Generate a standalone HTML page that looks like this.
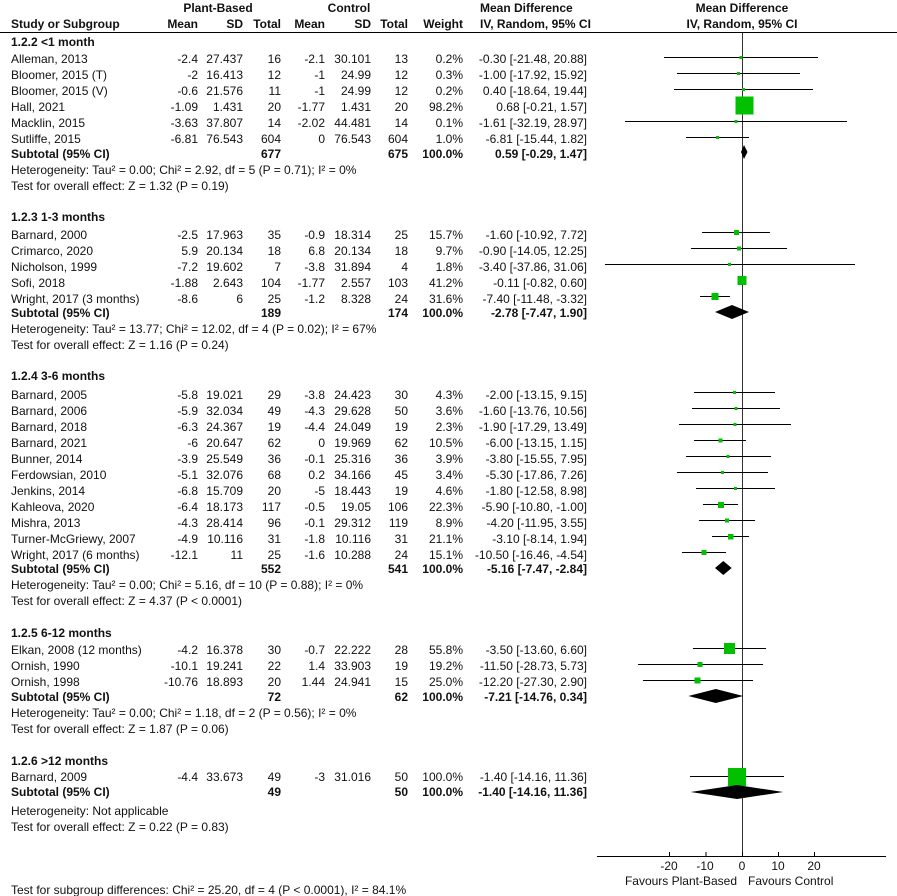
<!DOCTYPE html>
<html><head><meta charset="utf-8"><style>
html,body{margin:0;padding:0;background:#fff;}
svg{display:block;font-family:"Liberation Sans",Arial,sans-serif;font-size:12px;fill:#111;}
.b{font-weight:bold;}
.r{text-anchor:end;}
.c{text-anchor:middle;}
</style></head><body>
<svg width="897" height="896" viewBox="0 0 897 896" xmlns="http://www.w3.org/2000/svg" dominant-baseline="central">
<!-- header -->
<g class="b">
<text x="218" y="8" class="c">Plant-Based</text>
<text x="349" y="8" class="c">Control</text>
<text x="480" y="8">Mean Difference</text>
<text x="742" y="8" class="c">Mean Difference</text>
<text x="11" y="24">Study or Subgroup</text>
<text x="198" y="24" class="r">Mean</text>
<text x="243" y="24" class="r">SD</text>
<text x="281" y="24" class="r">Total</text>
<text x="325" y="24" class="r">Mean</text>
<text x="371" y="24" class="r">SD</text>
<text x="408" y="24" class="r">Total</text>
<text x="463" y="24" class="r">Weight</text>
<text x="480" y="24">IV, Random, 95% CI</text>
<text x="742" y="24" class="c">IV, Random, 95% CI</text>
</g>
<line x1="0" y1="32.5" x2="897" y2="32.5" stroke="#000" stroke-width="1"/>
<line x1="742.5" y1="33" x2="742.5" y2="856" stroke="#333" stroke-width="1"/>
<!-- axis -->
<line x1="597" y1="856.5" x2="886" y2="856.5" stroke="#000" stroke-width="1"/>
<g stroke="#000" stroke-width="1">
<line x1="669.5" y1="852" x2="669.5" y2="856"/><line x1="706" y1="852" x2="706" y2="856"/><line x1="742.5" y1="852" x2="742.5" y2="856"/><line x1="778.5" y1="852" x2="778.5" y2="856"/><line x1="814.5" y1="852" x2="814.5" y2="856"/>
</g>
<text x="669" y="866" class="c">-20</text><text x="705" y="866" class="c">-10</text><text x="742" y="866" class="c">0</text><text x="778" y="866" class="c">10</text><text x="814" y="866" class="c">20</text>
<text x="737" y="881" class="r">Favours Plant-Based</text>
<text x="748" y="881">Favours Control</text>

<!-- table rows -->
<g>
<text x="11" y="42" class="b">1.2.2 &lt;1 month</text>
<text x="11" y="59">Alleman, 2013</text><text x="198" y="59" class="r">-2.4</text><text x="243" y="59" class="r">27.437</text><text x="281" y="59" class="r">16</text><text x="325" y="59" class="r">-2.1</text><text x="371" y="59" class="r">30.101</text><text x="408" y="59" class="r">13</text><text x="463" y="59" class="r">0.2%</text><text x="587" y="59" class="r">-0.30 [-21.48, 20.88]</text>
<text x="11" y="75">Bloomer, 2015 (T)</text><text x="198" y="75" class="r">-2</text><text x="243" y="75" class="r">16.413</text><text x="281" y="75" class="r">12</text><text x="325" y="75" class="r">-1</text><text x="371" y="75" class="r">24.99</text><text x="408" y="75" class="r">12</text><text x="463" y="75" class="r">0.3%</text><text x="587" y="75" class="r">-1.00 [-17.92, 15.92]</text>
<text x="11" y="91">Bloomer, 2015 (V)</text><text x="198" y="91" class="r">-0.6</text><text x="243" y="91" class="r">21.576</text><text x="281" y="91" class="r">11</text><text x="325" y="91" class="r">-1</text><text x="371" y="91" class="r">24.99</text><text x="408" y="91" class="r">12</text><text x="463" y="91" class="r">0.2%</text><text x="587" y="91" class="r">0.40 [-18.64, 19.44]</text>
<text x="11" y="107">Hall, 2021</text><text x="198" y="107" class="r">-1.09</text><text x="243" y="107" class="r">1.431</text><text x="281" y="107" class="r">20</text><text x="325" y="107" class="r">-1.77</text><text x="371" y="107" class="r">1.431</text><text x="408" y="107" class="r">20</text><text x="463" y="107" class="r">98.2%</text><text x="587" y="107" class="r">0.68 [-0.21, 1.57]</text>
<text x="11" y="123">Macklin, 2015</text><text x="198" y="123" class="r">-3.63</text><text x="243" y="123" class="r">37.807</text><text x="281" y="123" class="r">14</text><text x="325" y="123" class="r">-2.02</text><text x="371" y="123" class="r">44.481</text><text x="408" y="123" class="r">14</text><text x="463" y="123" class="r">0.1%</text><text x="587" y="123" class="r">-1.61 [-32.19, 28.97]</text>
<text x="11" y="139">Sutliffe, 2015</text><text x="198" y="139" class="r">-6.81</text><text x="243" y="139" class="r">76.543</text><text x="281" y="139" class="r">604</text><text x="325" y="139" class="r">0</text><text x="371" y="139" class="r">76.543</text><text x="408" y="139" class="r">604</text><text x="463" y="139" class="r">1.0%</text><text x="587" y="139" class="r">-6.81 [-15.44, 1.82]</text>
<g class="b"><text x="11" y="154">Subtotal (95% CI)</text><text x="281" y="154" class="r">677</text><text x="408" y="154" class="r">675</text><text x="463" y="154" class="r">100.0%</text><text x="587" y="154" class="r">0.59 [-0.29, 1.47]</text></g>
<text x="11" y="170">Heterogeneity: Tau² = 0.00; Chi² = 2.92, df = 5 (P = 0.71); I² = 0%</text>
<text x="11" y="186">Test for overall effect: Z = 1.32 (P = 0.19)</text>

<text x="11" y="217" class="b">1.2.3 1-3 months</text>
<text x="11" y="235">Barnard, 2000</text><text x="198" y="235" class="r">-2.5</text><text x="243" y="235" class="r">17.963</text><text x="281" y="235" class="r">35</text><text x="325" y="235" class="r">-0.9</text><text x="371" y="235" class="r">18.314</text><text x="408" y="235" class="r">25</text><text x="463" y="235" class="r">15.7%</text><text x="587" y="235" class="r">-1.60 [-10.92, 7.72]</text>
<text x="11" y="251">Crimarco, 2020</text><text x="198" y="251" class="r">5.9</text><text x="243" y="251" class="r">20.134</text><text x="281" y="251" class="r">18</text><text x="325" y="251" class="r">6.8</text><text x="371" y="251" class="r">20.134</text><text x="408" y="251" class="r">18</text><text x="463" y="251" class="r">9.7%</text><text x="587" y="251" class="r">-0.90 [-14.05, 12.25]</text>
<text x="11" y="267">Nicholson, 1999</text><text x="198" y="267" class="r">-7.2</text><text x="243" y="267" class="r">19.602</text><text x="281" y="267" class="r">7</text><text x="325" y="267" class="r">-3.8</text><text x="371" y="267" class="r">31.894</text><text x="408" y="267" class="r">4</text><text x="463" y="267" class="r">1.8%</text><text x="587" y="267" class="r">-3.40 [-37.86, 31.06]</text>
<text x="11" y="283">Sofi, 2018</text><text x="198" y="283" class="r">-1.88</text><text x="243" y="283" class="r">2.643</text><text x="281" y="283" class="r">104</text><text x="325" y="283" class="r">-1.77</text><text x="371" y="283" class="r">2.557</text><text x="408" y="283" class="r">103</text><text x="463" y="283" class="r">41.2%</text><text x="587" y="283" class="r">-0.11 [-0.82, 0.60]</text>
<text x="11" y="299">Wright, 2017 (3 months)</text><text x="198" y="299" class="r">-8.6</text><text x="243" y="299" class="r">6</text><text x="281" y="299" class="r">25</text><text x="325" y="299" class="r">-1.2</text><text x="371" y="299" class="r">8.328</text><text x="408" y="299" class="r">24</text><text x="463" y="299" class="r">31.6%</text><text x="587" y="299" class="r">-7.40 [-11.48, -3.32]</text>
<g class="b"><text x="11" y="313">Subtotal (95% CI)</text><text x="281" y="313" class="r">189</text><text x="408" y="313" class="r">174</text><text x="463" y="313" class="r">100.0%</text><text x="587" y="313" class="r">-2.78 [-7.47, 1.90]</text></g>
<text x="11" y="329">Heterogeneity: Tau² = 13.77; Chi² = 12.02, df = 4 (P = 0.02); I² = 67%</text>
<text x="11" y="345">Test for overall effect: Z = 1.16 (P = 0.24)</text>

<text x="11" y="376" class="b">1.2.4 3-6 months</text>
<text x="11" y="395">Barnard, 2005</text><text x="198" y="395" class="r">-5.8</text><text x="243" y="395" class="r">19.021</text><text x="281" y="395" class="r">29</text><text x="325" y="395" class="r">-3.8</text><text x="371" y="395" class="r">24.423</text><text x="408" y="395" class="r">30</text><text x="463" y="395" class="r">4.3%</text><text x="587" y="395" class="r">-2.00 [-13.15, 9.15]</text>
<text x="11" y="411">Barnard, 2006</text><text x="198" y="411" class="r">-5.9</text><text x="243" y="411" class="r">32.034</text><text x="281" y="411" class="r">49</text><text x="325" y="411" class="r">-4.3</text><text x="371" y="411" class="r">29.628</text><text x="408" y="411" class="r">50</text><text x="463" y="411" class="r">3.6%</text><text x="587" y="411" class="r">-1.60 [-13.76, 10.56]</text>
<text x="11" y="427">Barnard, 2018</text><text x="198" y="427" class="r">-6.3</text><text x="243" y="427" class="r">24.367</text><text x="281" y="427" class="r">19</text><text x="325" y="427" class="r">-4.4</text><text x="371" y="427" class="r">24.049</text><text x="408" y="427" class="r">19</text><text x="463" y="427" class="r">2.3%</text><text x="587" y="427" class="r">-1.90 [-17.29, 13.49]</text>
<text x="11" y="443">Barnard, 2021</text><text x="198" y="443" class="r">-6</text><text x="243" y="443" class="r">20.647</text><text x="281" y="443" class="r">62</text><text x="325" y="443" class="r">0</text><text x="371" y="443" class="r">19.969</text><text x="408" y="443" class="r">62</text><text x="463" y="443" class="r">10.5%</text><text x="587" y="443" class="r">-6.00 [-13.15, 1.15]</text>
<text x="11" y="459">Bunner, 2014</text><text x="198" y="459" class="r">-3.9</text><text x="243" y="459" class="r">25.549</text><text x="281" y="459" class="r">36</text><text x="325" y="459" class="r">-0.1</text><text x="371" y="459" class="r">25.316</text><text x="408" y="459" class="r">36</text><text x="463" y="459" class="r">3.9%</text><text x="587" y="459" class="r">-3.80 [-15.55, 7.95]</text>
<text x="11" y="475">Ferdowsian, 2010</text><text x="198" y="475" class="r">-5.1</text><text x="243" y="475" class="r">32.076</text><text x="281" y="475" class="r">68</text><text x="325" y="475" class="r">0.2</text><text x="371" y="475" class="r">34.166</text><text x="408" y="475" class="r">45</text><text x="463" y="475" class="r">3.4%</text><text x="587" y="475" class="r">-5.30 [-17.86, 7.26]</text>
<text x="11" y="491">Jenkins, 2014</text><text x="198" y="491" class="r">-6.8</text><text x="243" y="491" class="r">15.709</text><text x="281" y="491" class="r">20</text><text x="325" y="491" class="r">-5</text><text x="371" y="491" class="r">18.443</text><text x="408" y="491" class="r">19</text><text x="463" y="491" class="r">4.6%</text><text x="587" y="491" class="r">-1.80 [-12.58, 8.98]</text>
<text x="11" y="507">Kahleova, 2020</text><text x="198" y="507" class="r">-6.4</text><text x="243" y="507" class="r">18.173</text><text x="281" y="507" class="r">117</text><text x="325" y="507" class="r">-0.5</text><text x="371" y="507" class="r">19.05</text><text x="408" y="507" class="r">106</text><text x="463" y="507" class="r">22.3%</text><text x="587" y="507" class="r">-5.90 [-10.80, -1.00]</text>
<text x="11" y="523">Mishra, 2013</text><text x="198" y="523" class="r">-4.3</text><text x="243" y="523" class="r">28.414</text><text x="281" y="523" class="r">96</text><text x="325" y="523" class="r">-0.1</text><text x="371" y="523" class="r">29.312</text><text x="408" y="523" class="r">119</text><text x="463" y="523" class="r">8.9%</text><text x="587" y="523" class="r">-4.20 [-11.95, 3.55]</text>
<text x="11" y="539">Turner-McGriewy, 2007</text><text x="198" y="539" class="r">-4.9</text><text x="243" y="539" class="r">10.116</text><text x="281" y="539" class="r">31</text><text x="325" y="539" class="r">-1.8</text><text x="371" y="539" class="r">10.116</text><text x="408" y="539" class="r">31</text><text x="463" y="539" class="r">21.1%</text><text x="587" y="539" class="r">-3.10 [-8.14, 1.94]</text>
<text x="11" y="555">Wright, 2017 (6 months)</text><text x="198" y="555" class="r">-12.1</text><text x="243" y="555" class="r">11</text><text x="281" y="555" class="r">25</text><text x="325" y="555" class="r">-1.6</text><text x="371" y="555" class="r">10.288</text><text x="408" y="555" class="r">24</text><text x="463" y="555" class="r">15.1%</text><text x="587" y="555" class="r">-10.50 [-16.46, -4.54]</text>
<g class="b"><text x="11" y="569">Subtotal (95% CI)</text><text x="281" y="569" class="r">552</text><text x="408" y="569" class="r">541</text><text x="463" y="569" class="r">100.0%</text><text x="587" y="569" class="r">-5.16 [-7.47, -2.84]</text></g>
<text x="11" y="585">Heterogeneity: Tau² = 0.00; Chi² = 5.16, df = 10 (P = 0.88); I² = 0%</text>
<text x="11" y="601">Test for overall effect: Z = 4.37 (P &lt; 0.0001)</text>

<text x="11" y="633" class="b">1.2.5 6-12 months</text>
<text x="11" y="650">Elkan, 2008 (12 months)</text><text x="198" y="650" class="r">-4.2</text><text x="243" y="650" class="r">16.378</text><text x="281" y="650" class="r">30</text><text x="325" y="650" class="r">-0.7</text><text x="371" y="650" class="r">22.222</text><text x="408" y="650" class="r">28</text><text x="463" y="650" class="r">55.8%</text><text x="587" y="650" class="r">-3.50 [-13.60, 6.60]</text>
<text x="11" y="666">Ornish, 1990</text><text x="198" y="666" class="r">-10.1</text><text x="243" y="666" class="r">19.241</text><text x="281" y="666" class="r">22</text><text x="325" y="666" class="r">1.4</text><text x="371" y="666" class="r">33.903</text><text x="408" y="666" class="r">19</text><text x="463" y="666" class="r">19.2%</text><text x="587" y="666" class="r">-11.50 [-28.73, 5.73]</text>
<text x="11" y="682">Ornish, 1998</text><text x="198" y="682" class="r">-10.76</text><text x="243" y="682" class="r">18.893</text><text x="281" y="682" class="r">20</text><text x="325" y="682" class="r">1.44</text><text x="371" y="682" class="r">24.941</text><text x="408" y="682" class="r">15</text><text x="463" y="682" class="r">25.0%</text><text x="587" y="682" class="r">-12.20 [-27.30, 2.90]</text>
<g class="b"><text x="11" y="697">Subtotal (95% CI)</text><text x="281" y="697" class="r">72</text><text x="408" y="697" class="r">62</text><text x="463" y="697" class="r">100.0%</text><text x="587" y="697" class="r">-7.21 [-14.76, 0.34]</text></g>
<text x="11" y="713">Heterogeneity: Tau² = 0.00; Chi² = 1.18, df = 2 (P = 0.56); I² = 0%</text>
<text x="11" y="729">Test for overall effect: Z = 1.87 (P = 0.06)</text>

<text x="11" y="761" class="b">1.2.6 &gt;12 months</text>
<text x="11" y="777">Barnard, 2009</text><text x="198" y="777" class="r">-4.4</text><text x="243" y="777" class="r">33.673</text><text x="281" y="777" class="r">49</text><text x="325" y="777" class="r">-3</text><text x="371" y="777" class="r">31.016</text><text x="408" y="777" class="r">50</text><text x="463" y="777" class="r">100.0%</text><text x="587" y="777" class="r">-1.40 [-14.16, 11.36]</text>
<g class="b"><text x="11" y="792">Subtotal (95% CI)</text><text x="281" y="792" class="r">49</text><text x="408" y="792" class="r">50</text><text x="463" y="792" class="r">100.0%</text><text x="587" y="792" class="r">-1.40 [-14.16, 11.36]</text></g>
<text x="11" y="811">Heterogeneity: Not applicable</text>
<text x="11" y="827">Test for overall effect: Z = 0.22 (P = 0.83)</text>

<text x="11" y="890">Test for subgroup differences: Chi² = 25.20, df = 4 (P &lt; 0.0001), I² = 84.1%</text>
</g>

<!-- CI lines -->
<g stroke="#000" stroke-width="1">
<line x1="664" y1="57.5" x2="818" y2="57.5"/>
<line x1="677" y1="73.5" x2="800" y2="73.5"/>
<line x1="674" y1="89.5" x2="813" y2="89.5"/>
<line x1="741" y1="105.5" x2="748" y2="105.5"/>
<line x1="625" y1="121.5" x2="847" y2="121.5"/>
<line x1="686" y1="137.5" x2="749" y2="137.5"/>

<line x1="702" y1="232.5" x2="770" y2="232.5"/>
<line x1="691" y1="248.5" x2="787" y2="248.5"/>
<line x1="605" y1="264.5" x2="855" y2="264.5"/>
<line x1="739" y1="280.5" x2="744" y2="280.5"/>
<line x1="700" y1="296.5" x2="730" y2="296.5"/>

<line x1="694" y1="392.5" x2="775" y2="392.5"/>
<line x1="692" y1="408.5" x2="780" y2="408.5"/>
<line x1="679" y1="424.5" x2="791" y2="424.5"/>
<line x1="694" y1="440.5" x2="746" y2="440.5"/>
<line x1="686" y1="456.5" x2="771" y2="456.5"/>
<line x1="677" y1="472.5" x2="768" y2="472.5"/>
<line x1="696" y1="488.5" x2="775" y2="488.5"/>
<line x1="703" y1="504.5" x2="738" y2="504.5"/>
<line x1="699" y1="520.5" x2="755" y2="520.5"/>
<line x1="712" y1="536.5" x2="749" y2="536.5"/>
<line x1="682" y1="552.5" x2="726" y2="552.5"/>

<line x1="693" y1="648.5" x2="766" y2="648.5"/>
<line x1="638" y1="664.5" x2="763" y2="664.5"/>
<line x1="643" y1="680.5" x2="753" y2="680.5"/>

<line x1="690" y1="776.5" x2="784" y2="776.5"/>
</g>
<!-- squares -->
<g fill="#00c000">
<rect x="739.5" y="56" width="3" height="3"/>
<rect x="737" y="72" width="3" height="3"/>
<rect x="742" y="88" width="3" height="3"/>
<rect x="735.5" y="96.5" width="18" height="18"/>
<rect x="734.5" y="120" width="3" height="3"/>
<rect x="716" y="136" width="3" height="3"/>

<rect x="734" y="230" width="5" height="5"/>
<rect x="737" y="246.5" width="4" height="4"/>
<rect x="728" y="263" width="3" height="3"/>
<rect x="737.5" y="276" width="9" height="9"/>
<rect x="711.5" y="293" width="7" height="7"/>

<rect x="733" y="391" width="3" height="3"/>
<rect x="734.5" y="407" width="3" height="3"/>
<rect x="733.5" y="423" width="3" height="3"/>
<rect x="718.5" y="438.5" width="4" height="4"/>
<rect x="726.5" y="455" width="3" height="3"/>
<rect x="721" y="471" width="3" height="3"/>
<rect x="734" y="487" width="3" height="3"/>
<rect x="718" y="502" width="6" height="6"/>
<rect x="725" y="518.5" width="4" height="4"/>
<rect x="728" y="534" width="5.5" height="5.5"/>
<rect x="701.5" y="550" width="5" height="5"/>

<rect x="724" y="643" width="11" height="11"/>
<rect x="697.5" y="662" width="5" height="5"/>
<rect x="694.5" y="677.5" width="6" height="6"/>

<rect x="728" y="768" width="18" height="18"/>
</g>
<!-- diamonds -->
<g fill="#000">
<polygon points="741,152 744,145 747.5,152 744,159"/>
<polygon points="715,312 732,305 749,312 732,319"/>
<polygon points="715,568 723.3,561 731.7,568 723.3,575"/>
<polygon points="688.4,696 715.8,689 743.2,696 715.8,703"/>
<polygon points="690.6,792 737,785 783.2,792 737,799"/>
</g>
</svg>
</body></html>
